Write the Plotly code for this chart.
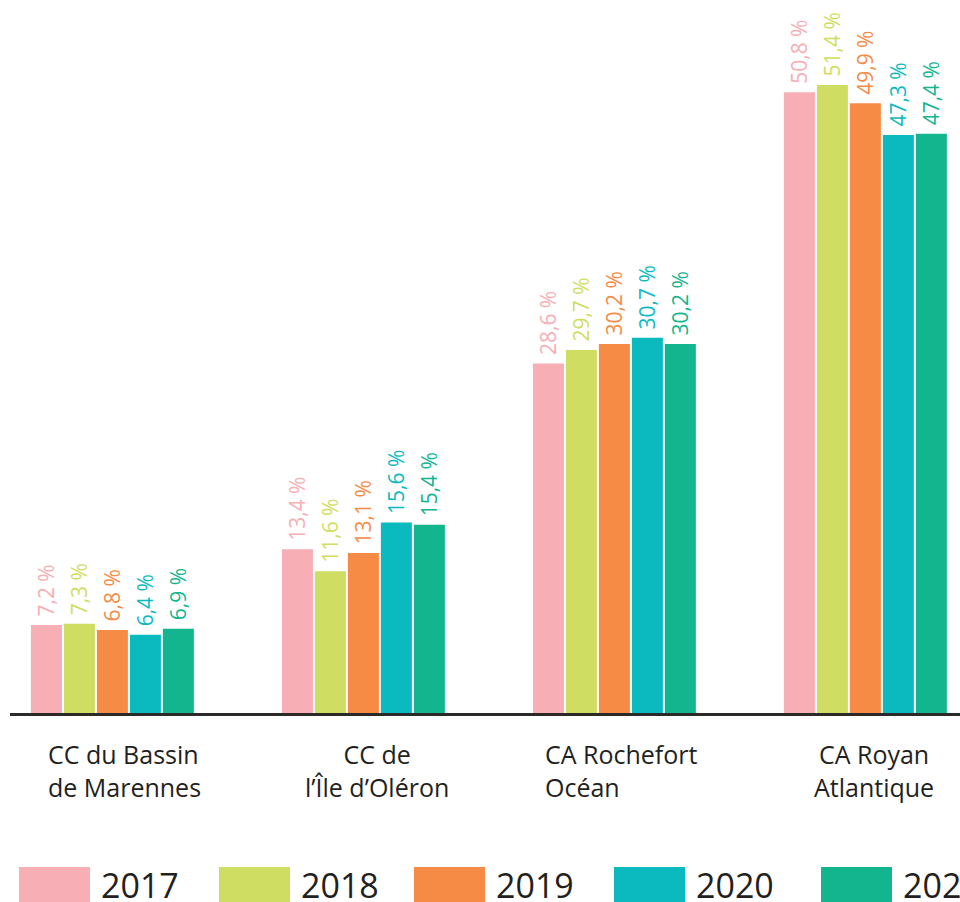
import plotly.graph_objects as go

categories = ["CC du Bassin<br>de Marennes", "CC de<br>l’Île d’Oléron", "CA Rochefort<br>Océan", "CA Royan<br>Atlantique"]
years = ["2017", "2018", "2019", "2020", "2021"]
v2017 = [7.2, 13.4, 28.6, 50.8]
v2018 = [7.3, 11.6, 29.7, 51.4]
v2019 = [6.8, 13.1, 30.2, 49.9]
v2020 = [6.4, 15.6, 30.7, 47.3]
v2021 = [6.9, 15.4, 30.2, 47.4]
series = [v2017, v2018, v2019, v2020, v2021]
colors = ["#f7aeb5", "#d0dd63", "#f58b45", "#0bbabf", "#12b58e"]
cat_align = ["left", "center", "left", "center"]
cat_shift = [12, 14, 7, 9]

W, H = 960, 902
ML, MR, MT, MB = 10, 0, 0, 189
PW = W - ML - MR
PH = H - MT - MB
FONT = "Open Sans"
DARK = "#231f20"

def fmt(v):
    return "\u00a0" + f"{v:.1f}".replace(".", ",") + " %"

fig = go.Figure()
for yr, vals, col in zip(years, series, colors):
    fig.add_trace(go.Bar(
        x=list(range(len(categories))), y=vals, name=yr,
        marker=dict(color=col, line=dict(width=0)),
        text=[fmt(v) for v in vals], textposition="outside", textangle=-90,
        textfont=dict(color=col, size=21, family=FONT),
        cliponaxis=False, constraintext="none", showlegend=False,
    ))

def px_x(p):
    return (p - ML) / PW

def px_y(p):
    return (H - MB - p) / PH

shapes = []
annotations = []
# category labels
for i, (c, al, sh) in enumerate(zip(categories, cat_align, cat_shift)):
    annotations.append(dict(x=i, xref="x", y=px_y(735), yref="paper", text=c,
                            showarrow=False, xanchor="center", yanchor="top", align=al,
                            xshift=sh, font=dict(size=25, family=FONT, color=DARK)))
# legend
leg_x = [19, 219, 414, 614, 821]
for yr, col, lx in zip(years, colors, leg_x):
    shapes.append(dict(type="rect", xref="paper", yref="paper",
                       x0=px_x(lx), x1=px_x(lx + 71), y0=px_y(867), y1=px_y(910),
                       fillcolor=col, line=dict(width=0), layer="above"))
    annotations.append(dict(x=px_x(lx + 80), xref="paper", y=px_y(860), yref="paper",
                            text=yr, showarrow=False, xanchor="left", yanchor="top",
                            font=dict(size=34, family=FONT, color=DARK)))

fig.update_layout(
    width=W, height=H, margin=dict(l=ML, r=MR, t=MT, b=MB, pad=0),
    paper_bgcolor="white", plot_bgcolor="white",
    barmode="group", bargap=0.343, bargroupgap=0.06,
    xaxis=dict(range=[-0.408, 3.377], showticklabels=False, showgrid=False, zeroline=False,
               showline=True, linecolor="#2b2a29", linewidth=3, ticks=""),
    yaxis=dict(range=[0, 58.35], visible=False, showgrid=False, zeroline=False),
    shapes=shapes, annotations=annotations, showlegend=False,
    font=dict(family=FONT),
)
fig.write_html("out.html", config={"displayModeBar": False},
               post_script="document.body.style.margin='0px';document.body.style.overflow='hidden';")
